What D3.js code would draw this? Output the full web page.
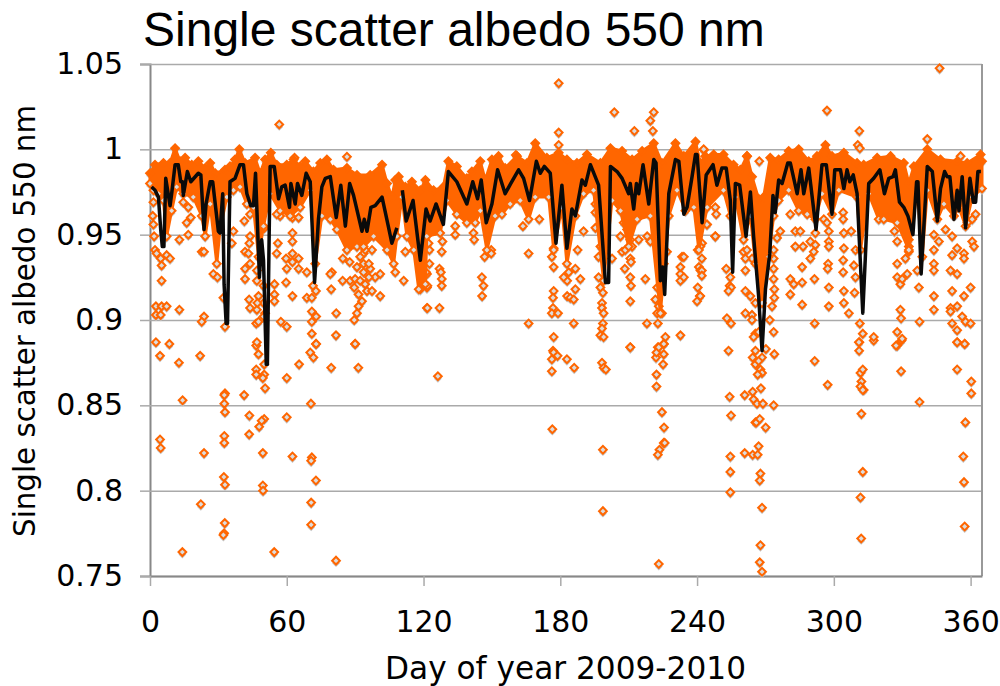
<!DOCTYPE html>
<html>
<head>
<meta charset="utf-8">
<title>Single scatter albedo 550 nm</title>
<script src="https://cdn.jsdelivr.net/npm/d3@7"></script>
<style>
    body { margin: 0; background: #fff; }
    text { fill: #000; }
</style>
</head>
<body>
<svg id="chart" width="1000" height="686"></svg>
<script>
const yTicks = [0.75, 0.8, 0.85, 0.9, 0.95, 1, 1.05];
const xTicks = [0, 60, 120, 180, 240, 300, 360];

// daily mean line, null = gap in the record
const lineDays = [0.7,2.2,3.7,4.7,5.4,6.1,6.9,8.8,9.5,11,12.4,13.5,14.3,14.6,16.4,17.9,21.2,22.3,23.7,24.6,26.4,27.5,30,30.7,31.9,32.5,33.4,34,35.1,37.3,39.5,41,42.5,44.2,45.4,46.3,48,49,49.8,51,51.5,52.7,54.5,56.4,57.8,59.3,61.2,61.8,63.7,64.7,66.6,68.5,70.3,72.2,73.9,75.4,76.9,79.1,81.7,83.7,85.7,87.6,89.3,93,94,95.2,96.9,98.8,101.8,104.7,106.1,108.3,109.5,110.7,112.4,115.4,118.6,121.1,122.9,125.5,128.7,130.9,134.6,139,141.6,143.7,145.3,147.5,150,152.5,155.8,158.3,161.7,163.9,166.5,169.5,171.2,173,175.6,178.1,180.7,182.9,185.1,186.6,189.5,191,193.2,196.8,199.8,201.2,202,204.9,207.1,210,210.7,212.2,213.4,214.4,216.3,218.8,221,222,223.9,224.9,225.8,227.6,230.5,232,234.2,235.6,237.8,239.3,240,242.2,244,247,248.7,250.9,252.8,254.6,255.6,256.8,258.7,261.5,263.4,264.8,267,268.5,270,271.9,273.3,274.3,275.8,277.3,279.8,280.9,283.9,285.6,286.8,289,292.2,294.8,296.7,299.2,300.4,302.9,304.4,305.8,307,308.5,310.2,312.7,315.3,317.5,320.2,322.2,324.1,326,327,328.8,330.7,332.5,334.7,336.3,336.9,338.3,341,343.2,345.4,346.8,348.6,349.7,350.9,352.7,354.1,354.9,356.3,357.8,359.7,361.2,362.2,363.2,364.5];
const lineValues = [.978,.976,.972,.953,.943,.943,.983,.967,.974,.991,.991,.981,.981,.973,.987,.981,.986,.985,.953,.968,.981,.981,.952,.951,.974,.921,.898,.898,.981,.983,.991,.991,.974,.967,.967,.986,.925,.947,.935,.874,.874,.99,.99,.971,.978,.979,.966,.98,.968,.98,.973,.986,.981,.922,.959,.978,.983,.984,.96,.979,.955,.98,.973,.952,.959,.952,.966,.967,.972,.954,.945,.954,null,.976,.958,.97,.935,.965,.958,.968,.956,.987,.981,.968,.981,.971,.982,.957,.968,.988,.974,.98,.988,.983,.97,.993,.986,.99,.986,.945,.979,.942,.965,.961,.982,.979,.991,.979,.922,.922,.99,.987,.983,.974,.98,.965,.98,.974,.991,.968,.994,.992,.923,.931,.915,.974,.994,.993,.962,.966,.984,.997,.997,.957,.985,.991,.979,.989,.989,.97,.928,.98,.979,.949,.975,.949,.914,.882,.918,.939,.973,.963,.982,.98,.992,.992,.974,.988,.974,.989,.953,.991,.991,.962,.988,.988,.977,.988,.981,.985,.974,.904,.98,.983,.988,.974,.983,.984,.988,.969,.966,.961,.95,.981,.981,.927,.99,.987,.958,.977,.987,.984,.984,.959,.976,.964,.984,.954,.983,.969,.969,.987,.987];

// edges of the solid orange cloud of hourly points
const bandTopDays = [0,2.2,5.9,8.8,11,13.2,15.4,18.3,21.2,24.2,26.4,28.6,32.9,35.1,37.3,39.2,41.7,46.1,48.3,50.5,53,55.6,60,63,65.9,68.1,71.7,74.7,77.6,80.5,86.4,90.8,96.6,101.8,104,106.1,107.6,109.1,112,114.9,118.6,120.8,124.4,128.7,130.9,134.6,139,141.2,144.9,147.1,150,152.9,155.8,161,165.4,169,174.1,179.3,182.9,187.3,191.7,197.6,202,207.1,211.5,215.9,221,224.6,230.5,234.2,239.3,241.4,243.6,247.3,251.6,256,259,261.9,264.1,267,269.2,272.1,275.8,280.2,284.6,289,292.6,296.3,299.2,304.4,310.2,313.1,319,324.9,330.7,332.9,335.1,341,346.8,354.1,358.5,364.4,365];
const bandTopValues = [.986,.991,.992,.992,1.0006,.993,.995,.991,.993,.989,.992,.986,.988,.99,.994,1,.992,.995,.986,.994,.998,.991,.991,.994,.99,.993,.987,.992,.994,.988,.989,.985,.985,.991,.98,.972,.982,.984,.978,.981,.976,.982,.976,.978,.993,.99,.983,.987,.993,.982,.994,.996,.989,.996,.992,1.0035,.995,.998,.994,.992,.997,.992,1.0006,.999,.994,.999,1.0035,.992,1.0035,.996,1.0045,.992,.996,.997,.997,.991,.988,.996,.984,.971,.972,.995,.994,.999,1,.993,.996,1.0025,.996,.998,.992,.991,.995,.996,.992,.98,.99,1,.994,.993,.992,.997,.993];
const bandLowDays = [0,1.5,3.7,5.9,7.3,9.5,11.7,14.6,19,22.7,24.2,26.4,29.3,30.7,33.7,36.6,39.5,42.5,45.4,47.6,49.8,52.7,57.1,61.5,65.9,70.3,72.5,75.4,79.1,82,86.4,90.8,93.7,98.1,104,106.9,108.3,110.5,112.7,115.7,117.9,120.8,121.4,127.3,130.2,134.6,139,142.7,144.9,147.8,151.4,154.4,158,162.4,166.1,169,174.9,177.1,180.7,182.9,186.6,190.2,194.6,199,202.7,206.4,210,213.7,219.5,223.9,227.6,231.2,234.9,238.6,240.8,244.4,251.6,254.6,256.8,260.4,263.4,265.6,268.5,271.4,273.6,275.8,280.2,284.6,288.3,291.9,294.8,299.2,302.2,310.2,311.7,315.3,319.7,321.9,327.8,332.9,336.6,338.8,341,345.4,348.3,352.7,354.9,357.8,360.7,365];
const bandLowValues = [.98,.976,.974,.97,.949,.964,.978,.974,.972,.961,.949,.968,.933,.953,.972,.976,.978,.968,.966,.937,.955,.974,.964,.961,.966,.976,.933,.961,.959,.953,.941,.943,.943,.949,.941,.933,.949,.972,.949,.941,.918,.921,.949,.951,.97,.962,.957,.957,.964,.941,.961,.962,.968,.97,.959,.972,.972,.941,.966,.933,.961,.974,.976,.923,.97,.964,.943,.959,.961,.904,.961,.976,.964,.966,.941,.966,.976,.961,.972,.947,.961,.933,.91,.937,.961,.97,.976,.964,.962,.959,.974,.962,.976,.972,.941,.974,.959,.959,.957,.941,.976,.937,.976,.959,.968,.961,.966,.955,.972,.977];

// individual hourly points outside the cloud: [day, albedo]
const earlyPoints = [[2.6,.887],[8.5,.886],[4.4,.879],[22,.879],[12.7,.875],[46.6,.885],[47.6,.88],[50.1,.874],[46.6,.871],[46.6,.868],[50.1,.868],[49.5,.866],[50.5,.86],[60,.866],[65.4,.874],[70.3,.881],[72.8,.886],[71.7,.878],[79.5,.872],[90,.886],[91.4,.872],[32.9,.857],[32.6,.856],[41.3,.856],[14.3,.853],[32.6,.851],[32.9,.846],[70.6,.851],[43.6,.844],[50.1,.842],[49,.841],[60,.843],[47.9,.8375],[43.5,.833],[32.6,.832],[4.4,.83],[4.7,.825],[32.6,.828],[23.7,.822],[49.5,.822],[62.5,.82],[71,.8195],[70.7,.8175],[32.4,.808],[32.9,.8035],[72.8,.806],[49.5,.803],[49.6,.8],[22.3,.792],[70.7,.793],[32.8,.781],[70.7,.78],[32.5,.775],[32.2,.774],[14.2,.764],[54.5,.764],[81.6,.759],[56.7,1.0146],[63.4,.995],[86.4,.9957],[1.5,.969],[1.2,.961],[1.5,.956],[1.8,.949],[2.2,.941],[2.9,.939],[4.7,.936],[5.1,.932],[7.3,.938],[8.8,.936],[5.1,.923],[2.6,.908],[5.1,.908],[7.3,.908],[2.6,.903],[4.7,.903],[12.9,.947],[16.8,.95],[16.1,.957],[17.9,.96],[14.6,.969],[16.8,.966],[12.9,.906],[23.7,.902],[22.7,.899],[36.6,.952],[35.9,.945],[22.7,.94],[23.7,.94],[27.8,.927],[29.6,.925],[32.2,.913],[32.9,.896],[41.4,.958],[43.9,.962],[41.7,.93],[41.7,.924],[43.9,.949],[43.6,.945],[41.7,.94],[43.2,.939],[43.9,.933],[43.5,.912],[43.9,.907],[46.9,.906],[46.6,.898],[47.6,.899],[46.9,.887],[54.6,.921],[54.6,.915],[54.6,.911],[57.4,.899],[60,.896],[56.1,.945],[55.6,.939],[59.7,.936],[60,.93],[62.5,.939],[62.5,.934],[65.2,.936],[65.2,.93],[59.7,.922],[62.5,.914],[68.8,.913],[68.8,.928],[71.5,.92],[72.8,.917],[71,.913],[71,.905],[72.9,.902],[71,.899],[71,.892],[72.9,.886],[81.6,.891],[90,.886],[81.7,.904],[79.5,.918],[84.6,.936],[87.6,.934],[79.8,.928],[79.1,.927],[84.5,.923],[87.8,.923],[90,.924],[89.6,.919],[91.5,.915],[95.2,.917],[97.4,.917],[101,.914],[93,.911],[91.5,.908],[90.8,.904],[89.6,.9],[111.3,.923],[112,.94],[107.6,.928],[98.8,.925],[97.4,.941],[93.7,.939],[93.7,.933],[90.8,.931],[96.6,.93],[101,.927],[62.5,.96],[62.5,.946],[62.5,.951],[65.2,.96],[57.1,.961],[55.6,.962],[50.2,.954],[46.9,.923],[47.6,.914],[49.8,.92],[46.9,.929],[49.8,.91],[50.5,.904],[47.1,.91],[49.8,.902],[92.2,.937],[94.4,.941],[93.7,.928],[96,.933],[92.2,.923],[94.4,.921],[96,.925]];
const midPoints = [[121.5,.907],[121.5,.919],[118.6,.918],[121.5,.927],[179.3,1.0387],[179.3,1.0098],[179.3,1.0025],[203.7,1.0217],[212.5,1.0107],[221,1.0217],[219.5,1.0168],[220.6,1.0107],[243,.9996],[160.5,.9967],[133.9,.955],[133.9,.95],[141.9,.951],[142.2,.947],[146.8,.937],[149.7,.941],[149.7,.939],[145.6,.925],[146.3,.92],[145.7,.914],[166.1,.939],[163.6,.955],[170.8,.959],[166.1,.898],[121.7,.907],[127,.907],[121.7,.92],[122.6,.933],[121.1,.928],[128,.94],[128.3,.946],[127,.93],[127.6,.928],[128,.924],[128,.92],[122.6,.941],[122.2,.945],[177.1,.931],[176.3,.937],[177.1,.942],[177.1,.917],[176.8,.913],[176.8,.907],[176.3,.904],[179,.904],[177.1,.89],[176.8,.882],[183,.923],[183,.914],[184.4,.913],[186.6,.918],[185.9,.912],[188.8,.924],[186.6,.93],[183.7,.928],[181.5,.925],[185.9,.898],[187.6,.941],[190.2,.952],[202.7,.936],[195.4,.954],[195.4,.963],[195.4,.968],[197.6,.943],[196.8,.937],[196.8,.925],[197.6,.919],[198.7,.916],[198.3,.91],[198.3,.907],[199,.904],[198.7,.898],[198.3,.895],[197.6,.891],[199,.89],[208.3,.93],[210.7,.936],[211,.934],[210.7,.925],[211,.92],[210.7,.911],[206.4,.949],[209.3,.953],[210.7,.947],[207.8,.957],[207.1,.94],[208.5,.941],[211.5,.943],[214.4,.947],[218.1,.949],[219.5,.946],[217.3,.924],[218,.898],[222.8,.898],[222.5,.904],[224.6,.904],[221.7,.912],[223.2,.908],[222.5,.919],[225.4,.939],[225.4,.933],[226.8,.94],[223.2,.937],[232.7,.927],[232.7,.923],[234.2,.925],[233.4,.937],[234.2,.937],[232.7,.931],[232.7,.891],[226.1,.89],[225.4,.886],[222.8,.884],[240.8,.931],[241.5,.929],[240.3,.919],[241.2,.914],[240,.911],[242.2,.945],[240.3,.941],[248,.949],[244.4,.956],[210.7,.884],[126.3,.867],[177.1,.881],[176.3,.877],[178.8,.879],[176.3,.87],[182.9,.877],[186.1,.872],[198.3,.875],[199,.872],[200,.871],[210.7,.884],[222.2,.868],[222.2,.861],[225.1,.874],[222,.878],[222.2,.881],[223.2,.884],[225.4,.88],[225.4,.886],[224.6,.846],[225.5,.837],[225.4,.828],[225.8,.828],[223.5,.824],[222.8,.821],[176.5,.836],[198.7,.824],[198.7,.788],[223.2,.757]];
const latePoints = [[253.8,.882],[254.3,.855],[254.9,.844],[254.6,.82],[254.6,.811],[254.6,.799],[260.9,.856],[264.4,.858],[264.8,.8535],[266.3,.851],[268.9,.851],[273.6,.85],[268,.86],[264.4,.878],[265.6,.874],[267.8,.871],[268.5,.869],[266.6,.868],[265.6,.882],[268.5,.878],[270.2,.883],[273.9,.88],[267,.876],[265.6,.84],[266,.84],[267.5,.842],[270.1,.837],[267,.826],[260.9,.822],[264.4,.821],[266.6,.821],[267.8,.81],[267.5,.806],[268.5,.79],[267.8,.768],[267.5,.758],[268.5,.7525],[291.6,.876],[297.3,.862],[311.1,.882],[311.2,.887],[311.7,.869],[312.7,.871],[312.1,.864],[311.7,.861],[313.1,.859],[312.7,.859],[312.1,.845],[312.7,.811],[311.7,.796],[312,.772],[317.5,.888],[327.8,.885],[329.7,.888],[329.5,.87],[337.6,.852],[354.1,.887],[357.4,.886],[354.1,.871],[360.3,.864],[360.3,.857],[357.7,.84],[356.8,.82],[357.1,.805],[357.4,.779],[346.4,1.0475],[297,1.0227],[311.2,1.0107],[310.5,1.0025],[311.4,1.0006],[341,1.006],[355.6,.996],[242.9,1],[261.9,.996],[267.3,.993],[248,.949],[241.4,.943],[242.1,.936],[242.1,.929],[242.1,.926],[241.4,.914],[248,.966],[248.4,.962],[244.3,.956],[252.8,.93],[254.6,.925],[254.3,.92],[254.9,.919],[253.8,.917],[253.1,.901],[254.9,.898],[261.2,.904],[264.1,.903],[264.1,.9],[261.2,.917],[261.2,.929],[260.4,.94],[261.9,.941],[264.1,.936],[261.2,.936],[263.4,.914],[265.6,.91],[265.6,.892],[264.8,.89],[267,.893],[273.6,.893],[271.9,.9],[273.6,.936],[273.6,.93],[273.6,.924],[273.9,.918],[273.9,.913],[272.9,.908],[276.5,.952],[275.1,.948],[273.6,.941],[280.9,.924],[282.4,.921],[286.1,.922],[280.9,.915],[286.1,.931],[286.1,.909],[283.1,.952],[283.1,.943],[286.5,.943],[280.9,.962],[285.3,.952],[289.7,.946],[291.2,.94],[291.9,.944],[291.9,.951],[289.7,.936],[291.5,.924],[291.6,.898],[297.8,.952],[297.8,.946],[297.8,.943],[297.5,.933],[297.3,.93],[297.8,.919],[297.8,.908],[295.6,.959],[297,.957],[304.1,.963],[304.1,.959],[304.4,.951],[304.4,.942],[304.1,.935],[304.1,.928],[304.4,.917],[304.4,.91],[306.6,.904],[307.6,.952],[309.5,.941],[308.8,.932],[309.1,.916],[309.5,.925],[311.4,.898],[312.7,.892],[311,.887],[317.5,.89],[326.6,.952],[327.8,.946],[327.8,.933],[327.8,.925],[329.2,.921],[331.4,.936],[332.2,.927],[330,.924],[329.2,.906],[329.5,.901],[327.8,.893],[330,.889],[327.3,.885],[332.9,.947],[332.9,.943],[332.9,.94],[336.6,.929],[337.3,.919],[337.6,.899],[343.9,.95],[346.1,.946],[343.9,.941],[343.9,.933],[343.9,.929],[343.9,.914],[343.9,.906],[349,.953],[351.9,.949],[354.1,.942],[351.9,.938],[351.2,.929],[354.1,.927],[357.1,.939],[357.1,.936],[360.7,.946],[361.5,.943],[360,.919],[357.1,.914],[351.9,.917],[351.2,.907],[354.1,.908],[351.2,.905],[356.3,.902],[357.8,.899],[351.9,.898],[354.1,.894],[360,.898],[354.1,.887],[357.4,.886],[362.2,.962],[360.7,.959],[358.6,.957]];

const orange = "#ff6600";
const sans = '"DejaVu Sans", Verdana, sans-serif';

const svg = d3.select("#chart");

const xScale = d3.scaleLinear().domain([0, 365]).range([150, 982]);
const yScale = d3.scaleLinear().domain([0.75, 1.05]).range([576, 64]);

// title
svg.append("text")
    .attr("x", 143)
    .attr("y", 46)
    .style("font-family", '"Liberation Sans", Arial, sans-serif')
    .style("font-size", "48px")
    .text("Single scatter albedo 550 nm");

// y axis with full width grid lines
const yAxis = svg.append("g")
    .attr("transform", "translate(150,0)")
    .call(d3.axisLeft(yScale).tickValues(yTicks).tickFormat(d => d).tickSize(10).tickPadding(17));
yAxis.select(".domain").attr("stroke", "#888").attr("stroke-width", 2);
yAxis.selectAll(".tick line").attr("stroke", "#aaa").attr("stroke-width", 1.5);
yAxis.selectAll(".tick").append("line")
    .attr("x2", 832)
    .attr("stroke", "#aaa")
    .attr("stroke-width", 1.5);
yAxis.selectAll("text")
    .style("font-family", sans)
    .style("font-size", "30px");

// right edge of the plot box
svg.append("line")
    .attr("x1", xScale(365)).attr("x2", xScale(365))
    .attr("y1", yScale(1.05)).attr("y2", yScale(0.75))
    .attr("stroke", "#999")
    .attr("stroke-width", 2);

// x axis
const xAxis = svg.append("g")
    .attr("transform", "translate(0,576)")
    .call(d3.axisBottom(xScale).tickValues(xTicks).tickSize(10).tickSizeOuter(0).tickPadding(25));
xAxis.select(".domain").attr("stroke", "#888").attr("stroke-width", 2);
xAxis.selectAll(".tick line").attr("stroke", "#aaa").attr("stroke-width", 1.5);
xAxis.selectAll("text")
    .style("font-family", sans)
    .style("font-size", "30px");

// axis labels
svg.append("text")
    .attr("x", 565.5)
    .attr("y", 679)
    .attr("text-anchor", "middle")
    .style("font-family", sans)
    .style("font-size", "31.2px")
    .text("Day of year 2009-2010");

svg.append("text")
    .attr("transform", "translate(35,321) rotate(-90)")
    .attr("text-anchor", "middle")
    .style("font-family", sans)
    .style("font-size", "29.3px")
    .text("Single scatter albedo 550 nm");

// hourly points
const allPoints = earlyPoints.concat(midPoints, latePoints);
const topEdge = bandTopDays.map((d, i) => [d, bandTopValues[i]]);
const lowEdge = bandLowDays.map((d, i) => [d, bandLowValues[i]]);
const edgePoints = topEdge.concat(lowEdge);
const diamond = d3.symbol(d3.symbolSquare, 30);

const marks = svg.append("g");
marks.selectAll(".shadow")
    .data(allPoints.concat(edgePoints))
    .enter()
    .append("path")
    .attr("class", "shadow")
    .attr("d", diamond)
    .attr("transform", d => `translate(${xScale(d[0])},${yScale(d[1]) + 2.5}) rotate(45)`)
    .attr("fill", "#c4c4c4");

marks.selectAll(".point")
    .data(allPoints)
    .enter()
    .append("path")
    .attr("class", "point")
    .attr("d", diamond)
    .attr("transform", d => `translate(${xScale(d[0])},${yScale(d[1])}) rotate(45)`)
    .attr("fill", "#dcdcdc")
    .attr("stroke", orange)
    .attr("stroke-width", 2);

// solid cloud: top edge out, low edge back
const outline = d3.line()
    .x(d => xScale(d[0]))
    .y(d => yScale(d[1]));

marks.append("path")
    .attr("d", outline(topEdge.concat(lowEdge.slice().reverse())) + "Z")
    .attr("fill", orange)
    .attr("stroke", orange)
    .attr("stroke-width", 3)
    .attr("stroke-linejoin", "round");

// top edge diamonds are solid, low edge ones stay open so the rim looks speckled
marks.selectAll(".edge-top")
    .data(topEdge)
    .enter()
    .append("path")
    .attr("class", "edge-top")
    .attr("d", diamond)
    .attr("transform", d => `translate(${xScale(d[0])},${yScale(d[1])}) rotate(45)`)
    .attr("fill", orange)
    .attr("stroke", orange)
    .attr("stroke-width", 2);

marks.selectAll(".edge-low")
    .data(lowEdge)
    .enter()
    .append("path")
    .attr("class", "edge-low")
    .attr("d", diamond)
    .attr("transform", d => `translate(${xScale(d[0])},${yScale(d[1])}) rotate(45)`)
    .attr("fill", "#dcdcdc")
    .attr("stroke", orange)
    .attr("stroke-width", 2);

// daily mean
const meanLine = d3.line()
    .defined((d, i) => lineValues[i] !== null)
    .x((d, i) => xScale(lineDays[i]))
    .y((d, i) => yScale(lineValues[i]));

svg.append("path")
    .attr("d", meanLine(lineDays))
    .attr("fill", "none")
    .attr("stroke", "#0a0a0a")
    .attr("stroke-width", 3.5)
    .attr("stroke-linejoin", "round");
</script>
</body>
</html>
